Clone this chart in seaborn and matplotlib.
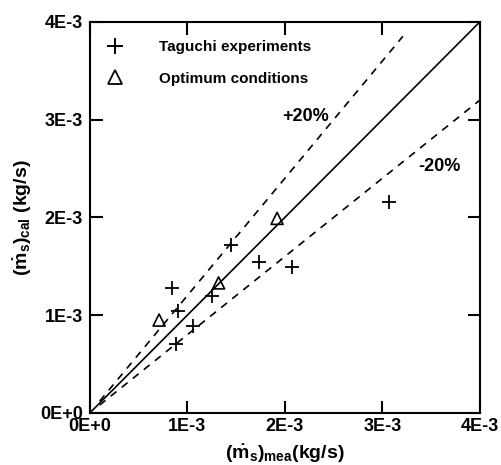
import numpy as np
import pandas as pd
import matplotlib
matplotlib.use("Agg")
import matplotlib.pyplot as plt
from matplotlib.lines import Line2D
import seaborn as sns

# Taguchi experiment runs: measured vs calculated mass flow (kg/s)
taguchi_mea = [0.84e-3, 0.90e-3, 1.06e-3, 0.88e-3, 1.25e-3, 1.45e-3, 1.73e-3, 2.07e-3, 3.07e-3]
taguchi_cal = [1.28e-3, 1.04e-3, 0.89e-3, 0.71e-3, 1.20e-3, 1.72e-3, 1.54e-3, 1.49e-3, 2.16e-3]

# Runs at optimum conditions
optimum_mea = [0.71e-3, 1.32e-3, 1.92e-3]
optimum_cal = [0.95e-3, 1.33e-3, 1.99e-3]

tick_values = [0, 1e-3, 2e-3, 3e-3, 4e-3]
tick_labels = ["0E+0", "1E-3", "2E-3", "3E-3", "4E-3"]

sns.set_theme(style="ticks")
FAM = ["Liberation Sans", "DejaVu Sans"]
plt.rcParams["font.family"] = FAM
plt.rcParams["font.weight"] = "bold"
plt.rcParams["axes.labelweight"] = "bold"
plt.rcParams["text.color"] = "black"
plt.rcParams["axes.labelcolor"] = "black"
plt.rcParams["xtick.color"] = "black"
plt.rcParams["ytick.color"] = "black"
plt.rcParams["mathtext.fontset"] = "custom"
plt.rcParams["mathtext.rm"] = "Liberation Sans:bold"
plt.rcParams["mathtext.it"] = "Liberation Sans:bold"
plt.rcParams["mathtext.bf"] = "Liberation Sans:bold"

fig = plt.figure(figsize=(5.02, 4.65), dpi=100)
ax = fig.add_axes([0.179, 0.112, 0.777, 0.841])

# Perfect agreement and +/-20% bands
ref = pd.DataFrame({"x": [0.0, 4e-3], "y": [0.0, 4e-3]})
sns.lineplot(data=ref, x="x", y="y", ax=ax, color="black", linewidth=1.2)
up = pd.DataFrame({"x": [0.1e-3, 3.21e-3]})
up["y"] = 1.2 * up["x"]
sns.lineplot(data=up, x="x", y="y", ax=ax, color="black", linewidth=1.2,
             linestyle=(0, (4.5, 4)))
lo = pd.DataFrame({"x": [0.1e-3, 4e-3]})
lo["y"] = 0.8 * lo["x"]
sns.lineplot(data=lo, x="x", y="y", ax=ax, color="black", linewidth=1.2,
             linestyle=(0, (4.5, 4)))

df_t = pd.DataFrame({"mea": taguchi_mea, "cal": taguchi_cal})
df_o = pd.DataFrame({"mea": optimum_mea, "cal": optimum_cal})
sns.scatterplot(data=df_t, x="mea", y="cal", ax=ax, marker="+", s=95,
                color="black", linewidth=1.3, zorder=3)
sns.scatterplot(data=df_o, x="mea", y="cal", ax=ax, marker="^", s=75,
                facecolor="none", edgecolor="black", linewidth=1.2, zorder=3)

ax.text(2.215e-3, 3.03e-3, "+20%", fontsize=13, fontweight="bold",
        family=FAM, ha="center", va="center", color="black")
ax.text(3.59e-3, 2.52e-3, "-20%", fontsize=13, fontweight="bold",
        family=FAM, ha="center", va="center", color="black")

ax.set_xlim(0, 4e-3)
ax.set_ylim(0, 4e-3)
ax.set_xticks(tick_values)
ax.set_xticklabels(tick_labels, fontweight="bold", family=FAM)
ax.set_yticks(tick_values)
ax.set_yticklabels(tick_labels, fontweight="bold", family=FAM)
ax.tick_params(direction="in", length=9, width=1.5, top=True, right=True,
               labelsize=13, colors="black")
ax.tick_params(axis="x", pad=4)
ax.tick_params(axis="y", pad=5)
for sp in ax.spines.values():
    sp.set_linewidth(1.5)
    sp.set_color("black")

ax.set_xlabel(r"$(\dot{m}_{\rm s})_{\rm mea}$(kg/s)", fontsize=14,
              fontweight="bold", labelpad=5, color="black")
ax.set_ylabel(r"$(\dot{m}_{\rm s})_{\rm cal}$ (kg/s)", fontsize=14,
              fontweight="bold", labelpad=4, color="black")

handles = [
    Line2D([], [], marker="+", linestyle="none", color="black",
           markersize=12, markeredgewidth=1.4),
    Line2D([], [], marker="^", linestyle="none", markerfacecolor="none",
           markeredgecolor="black", markersize=10, markeredgewidth=1.3),
]
ax.legend(handles, ["Taguchi experiments", "Optimum conditions"],
          loc="upper left", frameon=False,
          prop={"weight": "bold", "size": 11, "family": FAM},
          labelcolor="black",
          handletextpad=1.9, labelspacing=1.15, borderaxespad=0.4,
          bbox_to_anchor=(-0.006, 0.985))

fig.savefig("out.png", dpi=100)
